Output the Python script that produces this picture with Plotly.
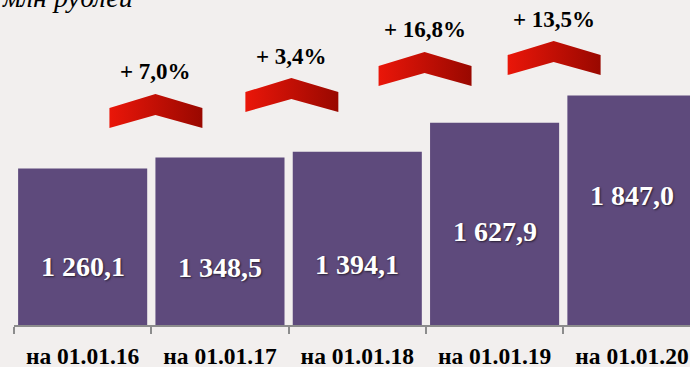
import plotly.graph_objects as go

# values, million roubles
dates = ["на 01.01.16", "на 01.01.17", "на 01.01.18", "на 01.01.19", "на 01.01.20"]
values = [1260.1, 1348.5, 1394.1, 1627.9, 1847.0]
value_labels = ["1 260,1", "1 348,5", "1 394,1", "1 627,9", "1 847,0"]
growth_labels = ["+ 7,0%", "+ 3,4%", "+ 16,8%", "+ 13,5%"]

# where the value labels and the growth arrows sit (layout only)
label_y = [467, 459, 483, 749, 1046]
arrow_x = [0.53, 1.52, 2.49, 3.43]
arrow_y = [1860, 1988, 2198, 2286]

BG = "#F2EFEE"
BAR = "#5E4A7C"
GREY = "#8C8C8C"
SERIF = "Liberation Serif"

fig = go.Figure()
fig.add_trace(go.Bar(x=list(range(len(values))), y=values, marker=dict(color=BAR, line=dict(width=0)),
                     hoverinfo="skip", showlegend=False))

# red chevrons, one trace each so the gradient spans each arrow
dx_l, dx_r = 0.335, 0.342
for cx, cy in zip(arrow_x, arrow_y):
    xs = [cx - dx_l, cx, cx + dx_r, cx + dx_r, cx, cx - dx_l, cx - dx_l]
    ys = [cy - 113, cy, cy - 113, cy - 274, cy - 169, cy - 274, cy - 113]
    fig.add_trace(go.Scatter(x=xs, y=ys, mode="lines", fill="toself", line=dict(width=0),
                             fillgradient=dict(type="horizontal",
                                               colorscale=[[0, "#EA1609"], [1, "#990800"]]),
                             hoverinfo="skip", showlegend=False))

for i, (txt, ly) in enumerate(zip(value_labels, label_y)):
    fig.add_annotation(x=i, y=ly, text=txt, showarrow=False, yanchor="middle",
                       font=dict(family=SERIF, size=28, color="white", weight="bold",
                                 shadow="1px 1px 2px rgba(0,0,0,0.6)"))

for cx, cy, txt in zip(arrow_x, arrow_y, growth_labels):
    fig.add_annotation(x=cx, y=cy, text=txt, showarrow=False, yanchor="middle", yshift=22,
                       font=dict(family=SERIF, size=23, color="black", weight="bold"))

# heading is cut by the top edge of the slide
fig.add_annotation(xref="paper", yref="paper", x=0.179, y=0.955, xanchor="right", yanchor="bottom",
                   text="млн рублей", showarrow=False,
                   font=dict(family=SERIF, size=28, color="black", style="italic"))

fig.update_layout(
    width=690, height=367,
    margin=dict(l=14, r=0, t=0, b=42, autoexpand=False),
    paper_bgcolor=BG, plot_bgcolor=BG,
    bargap=0.06,
    xaxis=dict(range=[-0.5, 4.423], tickmode="array", tickvals=list(range(len(dates))), ticktext=dates,
               ticks="", automargin=False,
               minor=dict(tickmode="array", tickvals=[i - 0.5 for i in range(len(dates) + 1)],
                          ticks="outside", ticklen=7, tickwidth=2, tickcolor=GREY, showgrid=False),
               showline=True, linecolor=GREY, linewidth=2, showgrid=False, zeroline=False,
               ticklabelstandoff=9,
               tickfont=dict(family=SERIF, size=23.5, color="black", weight="bold")),
    yaxis=dict(range=[0, 2616], visible=False),
)

fig.write_html("out.html", config={"displayModeBar": False},
               post_script="document.body.style.margin='0';document.body.style.background='%s';" % BG)
